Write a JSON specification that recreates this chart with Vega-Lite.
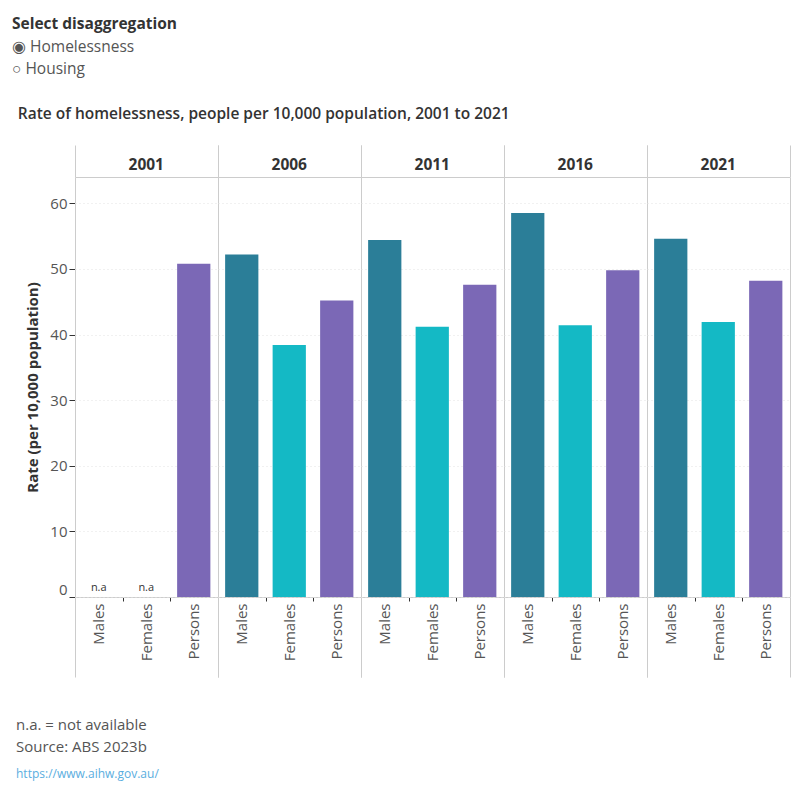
{
  "$schema": "https://vega.github.io/schema/vega-lite/v6.json",
  "background": "white",
  "padding": {"left": 12, "top": 17, "right": 5, "bottom": 5},
  "config": {
    "font": "Open Sans",
    "view": {"stroke": null}
  },
  "title": {
    "text": "Select disaggregation",
    "subtitle": ["◉ Homelessness", "○ Housing"],
    "anchor": "start",
    "frame": "bounds",
    "dx": -4,
    "fontSize": 15.5,
    "fontWeight": "bold",
    "color": "#333333",
    "subtitleFontSize": 15.5,
    "subtitleColor": "#555555",
    "subtitleLineHeight": 22,
    "subtitlePadding": 7,
    "offset": 30
  },
  "datasets": {
    "rates": [
      {"year": "2001", "sex": "Males", "rate": null, "note": "n.a"},
      {"year": "2001", "sex": "Females", "rate": null, "note": "n.a"},
      {"year": "2001", "sex": "Persons", "rate": 50.8, "note": null},
      {"year": "2006", "sex": "Males", "rate": 52.2, "note": null},
      {"year": "2006", "sex": "Females", "rate": 38.4, "note": null},
      {"year": "2006", "sex": "Persons", "rate": 45.2, "note": null},
      {"year": "2011", "sex": "Males", "rate": 54.4, "note": null},
      {"year": "2011", "sex": "Females", "rate": 41.2, "note": null},
      {"year": "2011", "sex": "Persons", "rate": 47.6, "note": null},
      {"year": "2016", "sex": "Males", "rate": 58.5, "note": null},
      {"year": "2016", "sex": "Females", "rate": 41.4, "note": null},
      {"year": "2016", "sex": "Persons", "rate": 49.8, "note": null},
      {"year": "2021", "sex": "Males", "rate": 54.6, "note": null},
      {"year": "2021", "sex": "Females", "rate": 41.9, "note": null},
      {"year": "2021", "sex": "Persons", "rate": 48.2, "note": null}
    ]
  },
  "spacing": 38,
  "vconcat": [
    {
      "title": {
        "text": "Rate of homelessness, people per 10,000 population, 2001 to 2021",
        "anchor": "start",
        "frame": "bounds",
        "dx": -8,
        "fontSize": 15.5,
        "fontWeight": 600,
        "color": "#333333",
        "offset": 22
      },
      "data": {"name": "rates"},
      "spacing": 0,
      "facet": {
        "column": {
          "field": "year",
          "type": "ordinal",
          "title": null,
          "header": {
            "labelOrient": "top",
            "labelFontSize": 15.5,
            "labelFontWeight": "bold",
            "labelColor": "#333333",
            "labelPadding": -29
          }
        }
      },
      "spec": {
        "width": 142.5,
        "height": 420,
        "layer": [
          {
            "mark": {"type": "bar", "width": {"band": 0.7}},
            "encoding": {
              "x": {
                "field": "sex",
                "type": "nominal",
                "sort": ["Males", "Females", "Persons"],
                "scale": {"paddingInner": 0, "paddingOuter": 0},
                "axis": {
                  "orient": "bottom",
                  "title": null,
                  "labelAngle": 270,
                  "labelFontSize": 15,
                  "labelColor": "#555555",
                  "domain": true,
                  "domainColor": "#cccccc",
                  "tickBand": "extent",
                  "grid": true,
                  "gridDash": [],
                  "gridColor": {"condition": {"test": "datum.value === 'Persons' || datum.extra", "value": "#cccccc"}, "value": "transparent"},
                  "tickSize": {"condition": {"test": "datum.value === 'Persons' || datum.extra", "value": 80}, "value": 4},
                  "tickColor": {"condition": {"test": "datum.value === 'Persons' || datum.extra", "value": "#cccccc"}, "value": "#333333"},
                  "labelPadding": {"condition": {"test": "datum.value === 'Persons'", "value": -74}, "value": 2}
                }
              },
              "y": {
                "field": "rate",
                "type": "quantitative",
                "scale": {"domain": [0, 64], "nice": false},
                "axis": {
                  "title": "Rate (per 10,000 population)",
                  "titleFontSize": 15,
                  "titleFontWeight": "bold",
                  "titleColor": "#333333",
                  "titlePadding": 9,
                  "labelFontSize": 15,
                  "labelColor": "#555555",
                  "labelPadding": 2,
                  "labelFlush": true,
                  "tickSize": 6,
                  "tickColor": "#333333",
                  "domain": false,
                  "values": [0, 10, 20, 30, 40, 50, 60],
                  "gridColor": "#e3e3e3",
                  "gridDash": [1, 3]
                }
              },
              "color": {
                "field": "sex",
                "type": "nominal",
                "scale": {"domain": ["Males", "Females", "Persons"], "range": ["#2b7e98", "#14b9c5", "#7b68b6"]},
                "legend": null
              }
            }
          },
          {
            "transform": [{"filter": "datum.note != null"}],
            "mark": {"type": "text", "fontSize": 11, "color": "#333333", "dy": -9},
            "encoding": {
              "x": {
                "field": "sex",
                "type": "nominal",
                "sort": ["Males", "Females", "Persons"],
                "axis": {
                  "orient": "top",
                  "title": null,
                  "labels": false,
                  "domain": true,
                  "domainColor": "#cccccc",
                  "tickBand": "extent",
                  "tickSize": 32,
                  "tickColor": {"condition": {"test": "datum.value === 'Persons' || datum.extra", "value": "#cccccc"}, "value": "transparent"}
                }
              },
              "y": {"datum": 0},
              "text": {"field": "note"}
            }
          }
        ]
      }
    },
    {
      "width": 10,
      "height": 1,
      "title": {
        "text": ["n.a. = not available", "Source: ABS 2023b"],
        "anchor": "start",
        "frame": "bounds",
        "dx": -59,
        "fontSize": 15,
        "fontWeight": "normal",
        "color": "#555555",
        "lineHeight": 22,
        "subtitle": "https://www.aihw.gov.au/",
        "subtitleFontSize": 12,
        "subtitleColor": "#5aaee0",
        "subtitlePadding": 14
      },
      "data": {"values": [{"t": ""}]},
      "mark": {"type": "text"},
      "encoding": {"text": {"field": "t"}}
    }
  ]
}
